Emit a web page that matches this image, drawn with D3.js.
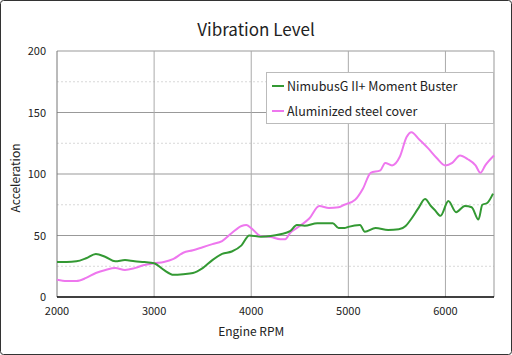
<!DOCTYPE html>
<html><head><meta charset="utf-8">
<script src="https://cdn.jsdelivr.net/npm/d3@7"></script>
<style>
body{margin:0;background:#fff;}
svg{display:block;font-family:"Noto Sans CJK JP","Noto Sans",sans-serif;}
</style></head><body>
<svg id="c" width="512" height="355"></svg>
<script>
const title = "Vibration Level";
const xTitle = "Engine RPM";
const yTitle = "Acceleration";
const seriesNames = ["NimubusG II+ Moment Buster", "Aluminized steel cover"];
const seriesColors = ["#339933", "#ee77ee"];
const xTicks = [2000, 3000, 4000, 5000, 6000];
const yTicks = [0, 50, 100, 150, 200];
const yMinor = [25, 75, 125, 175];

const rpmGreen = [2000,2100,2200,2300,2400,2500,2600,2700,2800,2900,3000,3100,3200,3300,3400,3500,3600,3700,3800,3900,3980,4100,4200,4300,4400,4470,4550,4680,4840,4900,4960,5000,5120,5170,5280,5410,5520,5590,5640,5720,5790,5850,5890,5950,6030,6110,6200,6270,6340,6380,6430,6490];
const green = [28.5,28.5,29,31.5,35,32.5,29,30,29,28.5,27.5,22,18,18.5,19.5,23.5,30,35,37,42,50,49,49.5,51,53.5,58.5,58,60,60,56,56,57,58.5,53,56,54.5,55,57.7,62.6,72,79.6,74,70.7,66,78,69,74,73,63,75,76.4,84];

const rpmPink = [2000,2100,2200,2300,2400,2500,2600,2700,2800,2900,3000,3100,3200,3300,3400,3500,3600,3700,3800,3900,3950,4000,4100,4200,4300,4350,4400,4500,4600,4700,4800,4900,4960,5070,5150,5230,5330,5380,5450,5530,5600,5650,5730,5820,5910,6000,6070,6150,6230,6310,6360,6410,6500];
const pink = [14,13,13,15.5,19.5,22,23.5,22,23.5,26,27.5,28.5,31,36,38,40.5,43,45.5,52,57.7,58.5,56,49.5,48.8,47,47,52,57.7,64,74,72.4,73,75,79,88,101,103,109,107,114,130,134,128,121,113,107,109,115,112,107,101,107,115];

const svg = d3.select("#c");
const W = 512, H = 355;
const m = {l:57, r:494, t:51, b:297};

svg.append("rect").attr("x",0.5).attr("y",0.5).attr("width",W-1).attr("height",H-1)
  .attr("rx",3).attr("fill","#fff").attr("stroke","#333");

const x = d3.scaleLinear().domain([2000,6500]).range([m.l,m.r]);
const y = d3.scaleLinear().domain([0,200]).range([m.b,m.t]);

// minor grid
svg.append("g").selectAll("line").data(yMinor).join("line")
  .attr("x1",m.l).attr("x2",m.r).attr("y1",d=>y(d)).attr("y2",d=>y(d))
  .attr("stroke","#d8d8d8").attr("stroke-dasharray","2,2");
// major grid
svg.append("g").selectAll("line").data(yTicks.filter(d=>d>0)).join("line")
  .attr("x1",m.l).attr("x2",m.r).attr("y1",d=>y(d)).attr("y2",d=>y(d))
  .attr("stroke","#999");
svg.append("g").selectAll("line").data(xTicks.filter(d=>d>2000)).join("line")
  .attr("x1",d=>x(d)).attr("x2",d=>x(d)).attr("y1",m.t).attr("y2",m.b)
  .attr("stroke","#aaa");
// plot border
svg.append("line").attr("x1",m.r).attr("x2",m.r).attr("y1",m.t).attr("y2",m.b).attr("stroke","#999");
svg.append("line").attr("x1",m.l).attr("x2",m.l).attr("y1",m.t).attr("y2",m.b).attr("stroke","#777");
svg.append("line").attr("x1",m.l).attr("x2",m.r).attr("y1",m.b).attr("y2",m.b).attr("stroke","#000").attr("stroke-width",1.5);

// tick labels
svg.append("g").selectAll("text").data(yTicks).join("text")
  .attr("x",46).attr("y",d=>y(d)+4).attr("text-anchor","end")
  .attr("font-size",11).attr("fill","#222").text(d=>d);
svg.append("g").selectAll("text").data(xTicks).join("text")
  .attr("x",d=>x(d)).attr("y",315).attr("text-anchor","middle")
  .attr("font-size",11).attr("fill","#222").text(d=>d);

svg.append("text").attr("x",W/2).attr("y",36).attr("text-anchor","middle")
  .attr("font-size",17).attr("fill","#222").text(title);
svg.append("text").attr("x",x(4000)).attr("y",336).attr("text-anchor","middle")
  .attr("font-size",12).attr("fill","#222").text(xTitle);
svg.append("text").attr("transform",`translate(20,${(m.t+m.b)/2+4}) rotate(-90)`)
  .attr("text-anchor","middle").attr("font-size",12).attr("fill","#222").text(yTitle);

const line = d3.line().x(d=>x(d[0])).y(d=>y(d[1])).curve(d3.curveMonotoneX);
svg.append("path").datum(rpmPink.map((r,i)=>[r,pink[i]])).attr("d",line)
  .attr("fill","none").attr("stroke",seriesColors[1]).attr("stroke-width",2);
svg.append("path").datum(rpmGreen.map((r,i)=>[r,green[i]])).attr("d",line)
  .attr("fill","none").attr("stroke",seriesColors[0]).attr("stroke-width",2);

// legend
const lg = svg.append("g").attr("transform","translate(266,72)");
lg.append("rect").attr("x",0.5).attr("y",0.5).attr("width",227).attr("height",51)
  .attr("fill","#fff").attr("stroke","#bbb");
seriesNames.forEach((n,i)=>{
  const yy = 14 + i*25;
  lg.append("line").attr("x1",6).attr("x2",18).attr("y1",yy).attr("y2",yy)
    .attr("stroke",seriesColors[i]).attr("stroke-width",2);
  lg.append("text").attr("x",21).attr("y",yy+4.5).attr("font-size",12.5).attr("fill","#222").text(n);
});
</script></body></html>
